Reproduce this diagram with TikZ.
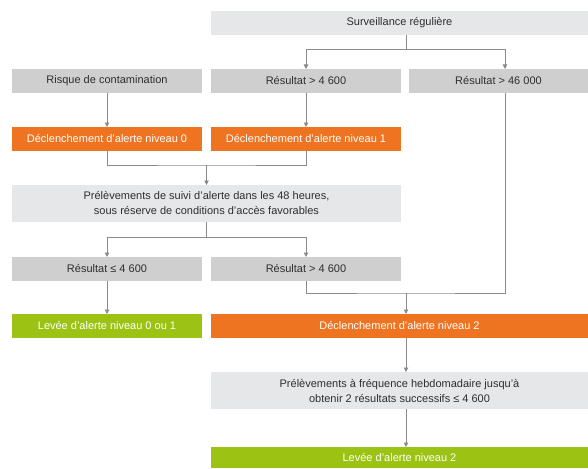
\documentclass[tikz,border=0pt]{standalone}
\usepackage{fontspec}
\setmainfont{Liberation Sans}
\usetikzlibrary{arrows.meta,calc}
\definecolor{lightbox}{HTML}{E6E7E9}
\definecolor{midbox}{HTML}{CFCFD0}
\definecolor{orangebox}{HTML}{EE7422}
\definecolor{greenbox}{HTML}{9CC313}
\definecolor{txtgray}{HTML}{2E2E2E}
\definecolor{linegray}{HTML}{8A8A8A}
\begin{document}
\begin{tikzpicture}[x=1pt,y=-1pt,
  base/.style={inner sep=0pt,outer sep=0pt,minimum height=24pt,align=center,
    font=\fontsize{11}{15}\selectfont},
  light/.style={base,fill=lightbox,text=txtgray},
  mid/.style={base,fill=midbox,text=txtgray},
  orng/.style={base,fill=orangebox,text=white},
  grn/.style={base,fill=greenbox,text=white},
  conn/.style={draw=linegray,line width=0.9pt},
  arr/.style={conn,-{Triangle[width=4.5pt,length=4.5pt]}}]
\useasboundingbox (0,0) rectangle (588,468);
% nodes
\node[light,minimum width=377pt] (surv) at (399.5,23) {Surveillance régulière};
\node[mid,minimum width=190pt] (risk) at (107,81) {Risque de contamination};
\node[mid,minimum width=190pt] (r1) at (306,81) {Résultat > 4 600};
\node[mid,minimum width=179pt] (r2) at (498.5,81) {Résultat > 46 000};
\node[orng,minimum width=190pt] (d0) at (107,139) {Déclenchement d'alerte niveau 0};
\node[orng,minimum width=190pt] (d1) at (306,139) {Déclenchement d'alerte niveau 1};
\node[light,minimum width=389pt,minimum height=37pt] (prel) at (206.5,203.5)
  {Prélèvements de suivi d'alerte dans les 48 heures,\\sous réserve de conditions d'accès favorables};
\node[mid,minimum width=190pt] (rle) at (107,269) {Résultat ≤ 4 600};
\node[mid,minimum width=190pt] (rgt) at (306,269) {Résultat > 4 600};
\node[grn,minimum width=190pt] (lev01) at (107,326) {Levée d'alerte niveau 0 ou 1};
\node[orng,minimum width=377pt] (d2) at (399.5,326) {Déclenchement d'alerte niveau 2};
\node[light,minimum width=377pt,minimum height=37pt] (hebdo) at (399.5,390.5)
  {Prélèvements à fréquence hebdomadaire jusqu'à\\obtenir 2 résultats successifs ≤ 4 600};
\node[grn,minimum width=377pt,minimum height=21pt] (lev2) at (399.5,457.5) {Levée d'alerte niveau 2};
% junctions
\coordinate (j1) at (406,49);
\coordinate (j2) at (206.5,165);
\coordinate (j3) at (206.5,237);
\coordinate (j4) at (406,293);
% connectors
\draw[conn] ([xshift=6.5pt]surv.south) -- (j1);
\draw[arr] (j1) -| (r1.north);
\draw[arr] (j1) -| ([xshift=6.5pt]r2.north);
\draw[arr] (risk) -- (d0);
\draw[arr] (r1) -- (d1);
\draw[conn] (d0.south) |- (j2) -| (d1.south);
\draw[arr] (j2) -- (prel.north);
\draw[conn] (prel.south) -- (j3);
\draw[arr] (j3) -| (rle.north);
\draw[arr] (j3) -| (rgt.north);
\draw[arr] (rle) -- (lev01);
\draw[conn] (rgt.south) |- (j4) -| ([xshift=6.5pt]r2.south);
\draw[arr] (j4) -- ([xshift=6.5pt]d2.north);
\draw[arr] ([xshift=6.5pt]d2.south) -- ([xshift=6.5pt]hebdo.north);
\draw[arr] ([xshift=6.5pt]hebdo.south) -- ([xshift=6.5pt]lev2.north);
\end{tikzpicture}
\end{document}
